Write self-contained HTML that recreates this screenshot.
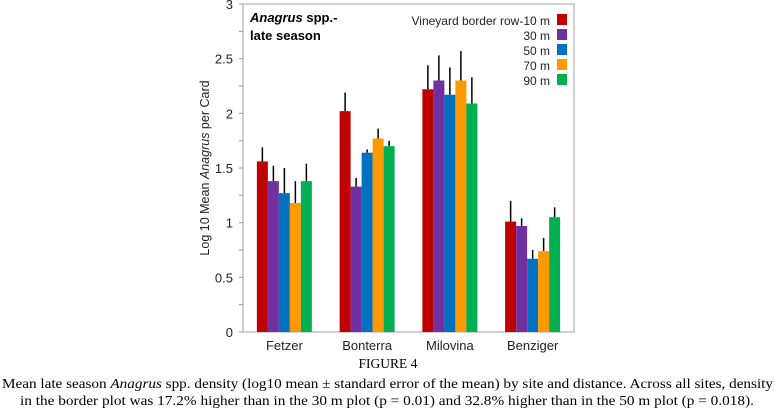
<!DOCTYPE html>
<html><head><meta charset="utf-8"><style>
html,body{margin:0;padding:0;background:#fff;}
svg{display:block;}
</style></head><body>
<svg id="chart" width="775" height="415" viewBox="0 0 775 415" xmlns="http://www.w3.org/2000/svg">
<rect width="775" height="415" fill="#fff"/>
<g id="plot"></g>
<text x="250" y="22" font-family="Liberation Sans, sans-serif" font-size="13" font-weight="bold"><tspan font-style="italic">Anagrus</tspan> spp.-</text>
<text x="250" y="40" font-family="Liberation Sans, sans-serif" font-size="13" font-weight="bold">late season</text>
<text transform="translate(209,168) rotate(-90)" text-anchor="middle" font-family="Liberation Sans, sans-serif" font-size="12.5" fill="#222">Log 10 Mean <tspan font-style="italic">Anagrus</tspan> per Card</text>
<text x="388" y="368" text-anchor="middle" font-family="Liberation Serif, serif" font-size="13.5">FIGURE 4</text>
<text x="2" y="388" textLength="771" lengthAdjust="spacingAndGlyphs" font-family="Liberation Serif, serif" font-size="13.5">Mean late season <tspan font-style="italic">Anagrus</tspan> spp. density (log10 mean ± standard error of the mean) by site and distance.  Across all sites, density</text>
<text x="20" y="405" textLength="734" lengthAdjust="spacingAndGlyphs" font-family="Liberation Serif, serif" font-size="13.5">in the border plot was 17.2% higher than in the 30 m plot (p = 0.01) and 32.8% higher than in the 50 m plot (p = 0.018).</text>
</svg>
<script>
const categories = ["Fetzer","Bonterra","Milovina","Benziger"];
const seriesNames = ["Vineyard border row-10 m","30 m","50 m","70 m","90 m"];
const seriesColors = ["#c00000","#7030a0","#0070c0","#ff9900","#00b050"];
const s10 = [1.56, 2.02, 2.22, 1.01];
const s30 = [1.38, 1.33, 2.30, 0.97];
const s50 = [1.27, 1.64, 2.17, 0.67];
const s70 = [1.18, 1.77, 2.30, 0.74];
const s90 = [1.38, 1.70, 2.09, 1.05];
const e10 = [0.13, 0.17, 0.22, 0.19];
const e30 = [0.14, 0.08, 0.23, 0.07];
const e50 = [0.23, 0.03, 0.25, 0.08];
const e70 = [0.20, 0.09, 0.27, 0.12];
const e90 = [0.16, 0.05, 0.24, 0.09];
const yTicks = [0, 0.5, 1, 1.5, 2, 2.5, 3];
const yTickLabels = ["0","0.5","1","1.5","2","2.5","3"];
const series = [s10,s30,s50,s70,s90];
const errors = [e10,e30,e50,e70,e90];

const NS = "http://www.w3.org/2000/svg";
const g = document.getElementById("plot");
const L=243, R=574, T=4, B=332, yMax=3;
const y = v => B - (v / yMax) * (B - T);
const groupW = (R - L) / categories.length;
const barW = 11;
const x = (ci, si) => L + groupW * ci + groupW / 2 - (series.length * barW) / 2 + si * barW;
function mk(tag, attrs){const e=document.createElementNS(NS,tag);for(const k in attrs)e.setAttribute(k,attrs[k]);g.appendChild(e);return e;}

// frame
const frame = mk("rect",{x:L,y:T,width:R-L,height:B-T,fill:"none",stroke:"#b0b0b0","stroke-width":1.2});


// minor ticks
for(let v=0; v<=yMax+0.001; v+=0.25){
  const t = mk("line",{x1:L-4,x2:L,y1:y(v),y2:y(v),stroke:"#999","stroke-width":1});
  
  
}
yTicks.forEach((v,i)=>{
  const t = mk("text",{x:L-10,y:y(v)+5,"text-anchor":"end","font-family":"Liberation Sans, sans-serif","font-size":"13",fill:"#222"});
  t.textContent = yTickLabels[i];
  
  
});
categories.forEach((c,ci)=>{
  const t = mk("text",{x:L+groupW*ci+groupW/2,y:350,"text-anchor":"middle","font-family":"Liberation Sans, sans-serif","font-size":"13",fill:"#222"});
  t.textContent = c;
  
  
  series.forEach((s,si)=>{
    const v = s[ci], e = errors[si][ci];
    const bx = x(ci, si);
    const er = mk("line",{x1:bx+barW/2,x2:bx+barW/2,y1:y(v),y2:y(v+e),stroke:"#000","stroke-width":1.5});
    
    
    const b = mk("rect",{x:bx,y:y(v),width:barW,height:B-y(v),fill:seriesColors[si]});
    
    
  });
});
// legend
seriesNames.forEach((n,si)=>{
  const ly = 20 + si*15;
  const t = mk("text",{x:550,y:ly+5,"text-anchor":"end","font-family":"Liberation Sans, sans-serif","font-size":"12",fill:"#222"});
  t.textContent = n;
  
  
  const r = mk("rect",{x:557,y:ly-6,width:10,height:11,fill:seriesColors[si]});
  
  
});
</script>
</body></html>
